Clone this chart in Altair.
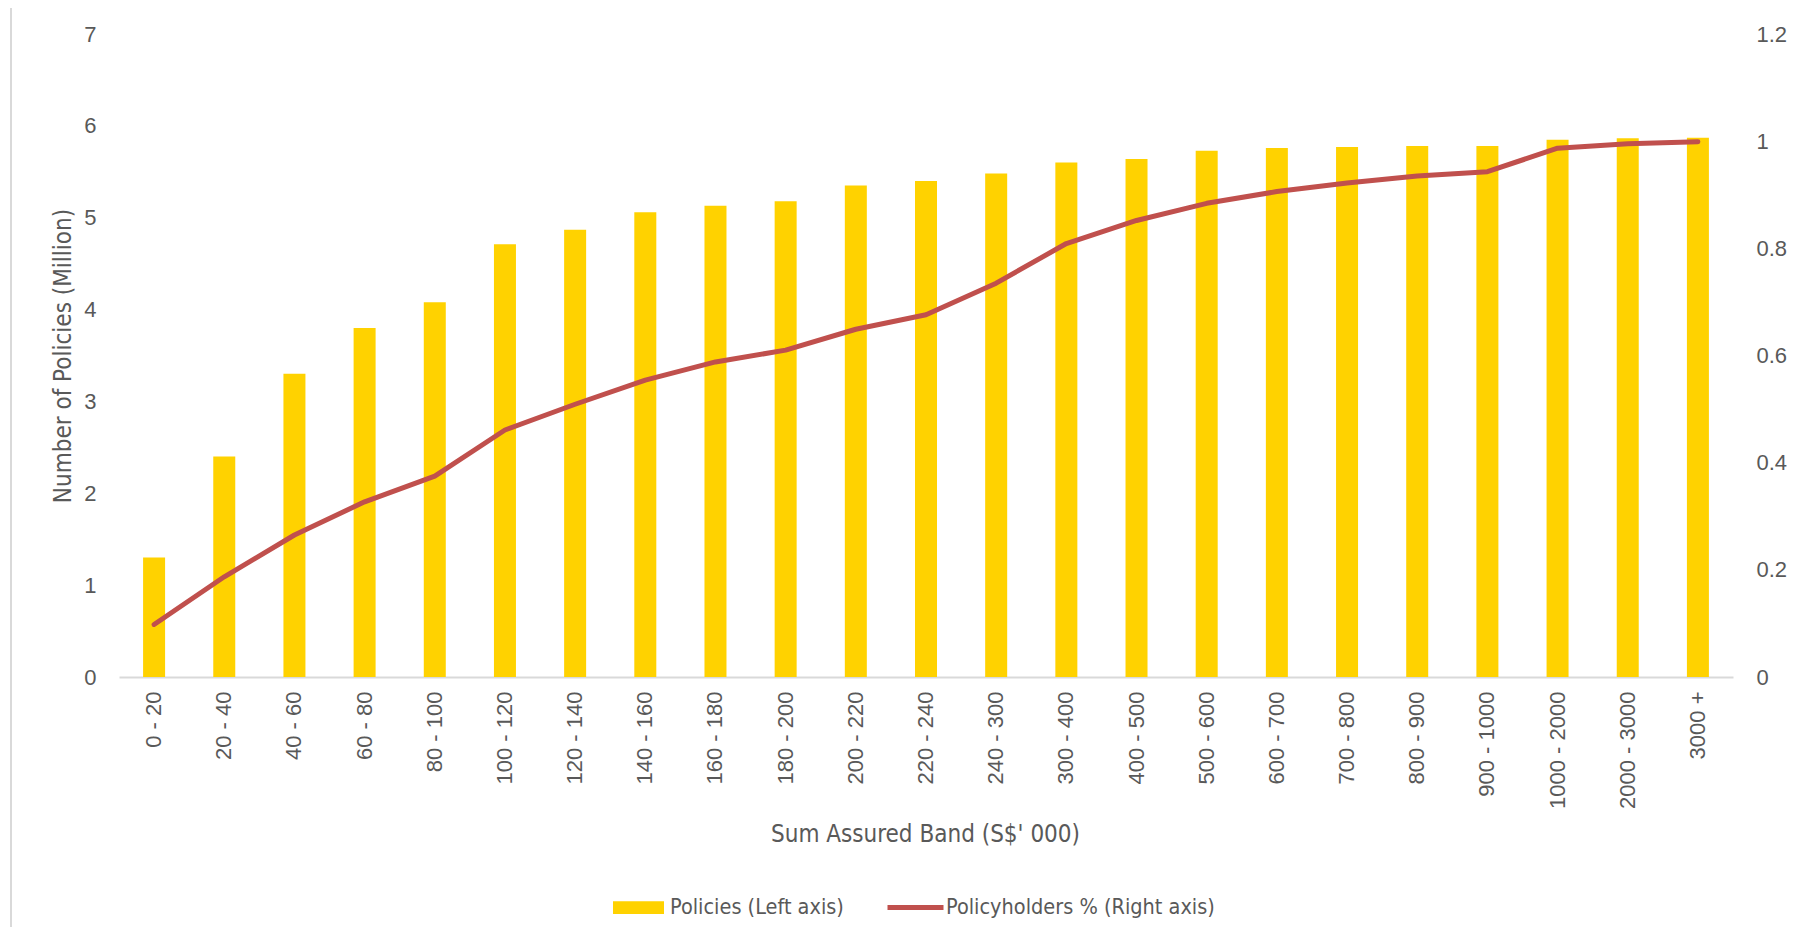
import altair as alt
import pandas as pd

bands = ["0 - 20", "20 - 40", "40 - 60", "60 - 80", "80 - 100", "100 - 120",
         "120 - 140", "140 - 160", "160 - 180", "180 - 200", "200 - 220",
         "220 - 240", "240 - 300", "300 - 400", "400 - 500", "500 - 600",
         "600 - 700", "700 - 800", "800 - 900", "900 - 1000", "1000 - 2000",
         "2000 - 3000", "3000 +"]
policies = [1.30, 2.40, 3.30, 3.80, 4.08, 4.71, 4.87, 5.06, 5.13, 5.18, 5.35,
            5.40, 5.48, 5.60, 5.64, 5.73, 5.76, 5.77, 5.78, 5.78, 5.85, 5.865, 5.87]
holders_pct = [0.098, 0.187, 0.265, 0.327, 0.375, 0.461, 0.509, 0.554, 0.588,
               0.610, 0.649, 0.676, 0.735, 0.809, 0.852, 0.884, 0.906, 0.922,
               0.935, 0.943, 0.987, 0.995, 0.999]
left_ticks = [0, 1, 2, 3, 4, 5, 6, 7]
right_ticks = [0, 0.2, 0.4, 0.6, 0.8, 1.0, 1.2]

df = pd.DataFrame({"band": bands, "policies": policies, "pct": holders_pct})

TXT = "#595959"
TICKFONT = "Liberation Sans, Arial, sans-serif"
NARROW = "Liberation Sans Narrow, DejaVu Sans Condensed, Arial Narrow, sans-serif"

x_enc = alt.X("band:N", sort=bands,
              scale=alt.Scale(paddingInner=0, paddingOuter=0),
              axis=alt.Axis(title="Sum Assured Band (S$' 000)", labelAngle=270,
                            labelAlign="right", labelBaseline="middle",
                            labelPadding=14, ticks=False, domainColor="#D9D9D9",
                            domainWidth=2, labelFont=TICKFONT, labelFontSize=22,
                            labelColor=TXT, titleFont=NARROW, titleFontSize=24,
                            titleFontWeight="normal", titleColor=TXT,
                            titleX=806, titleY=157, titleAlign="center",
                            titleBaseline="middle"))

bars = alt.Chart(df).mark_bar(size=22, color="#FFD200").encode(
    x=x_enc,
    y=alt.Y("policies:Q", scale=alt.Scale(domain=[0, 7]),
            axis=alt.Axis(title="Number of Policies (Million)", values=left_ticks,
                          orient="left", grid=False, domain=False, ticks=False,
                          labelPadding=23, labelFont=TICKFONT, labelFontSize=22,
                          labelColor=TXT, titleFont=NARROW, titleFontSize=24,
                          titleFontWeight="normal", titleColor=TXT,
                          titleAngle=270, titleX=-56, titleY=321.5,
                          titleAlign="center", titleBaseline="middle")),
    color=alt.Color("k:N", scale=alt.Scale(domain=["Policies (Left axis)"], range=["#FFD200"]),
                    legend=alt.Legend(title=None, orient="none", legendX=494, legendY=848,
                                      symbolType="M-1,-0.25L1,-0.25L1,0.25L-1,0.25Z",
                                      symbolSize=2601, symbolStrokeWidth=0,
                                      symbolOpacity=1, labelLimit=0,
                                      labelFont=NARROW, labelFontSize=21.5, labelColor=TXT,
                                      labelOffset=6)),
).transform_calculate(k="'Policies (Left axis)'")

line = alt.Chart(df).mark_line(strokeWidth=5, strokeCap="round", strokeJoin="round").encode(
    x=alt.X("band:N", sort=bands),
    y=alt.Y("pct:Q", scale=alt.Scale(domain=[0, 1.2]),
            axis=alt.Axis(title=None, values=right_ticks, orient="right", format="~g",
                          grid=False, domain=False, ticks=False, labelPadding=23,
                          labelFont=TICKFONT, labelFontSize=22, labelColor=TXT)),
    stroke=alt.Stroke("k:N", scale=alt.Scale(domain=["Policyholders % (Right axis)"],
                                             range=["#C0504D"]),
                      legend=alt.Legend(title=None, orient="none", legendX=766, legendY=843,
                                        symbolType="stroke", symbolSize=3136,
                                        symbolStrokeWidth=5, labelLimit=0,
                                        labelFont=NARROW, labelFontSize=21.5, labelColor=TXT,
                                        labelOffset=0)),
).transform_calculate(k="'Policyholders % (Right axis)'")

# decorative chart-area frame (left and top edges, as in the reference)
frame_left = alt.Chart(df).mark_rule(color="#D9D9D9", strokeWidth=1.5).encode(
    x=alt.value(-108), y=alt.value(-28), y2=alt.value(910))
frame_top = alt.Chart(df).mark_rule(color="#D9D9D9", strokeWidth=1.5).encode(
    x=alt.value(-108), x2=alt.value(1680), y=alt.value(-28))

chart = alt.layer(frame_left, frame_top, bars, line).resolve_scale(
    y="independent", color="independent", stroke="independent"
).properties(
    width=1614, height=643,
    padding={"left": 111, "top": 26, "right": 55, "bottom": 250},
    autosize=alt.AutoSizeParams(type="none"),
    background="white",
).configure_view(stroke=None)

chart.save("out.html", embed_options={"renderer": "svg", "actions": False})
